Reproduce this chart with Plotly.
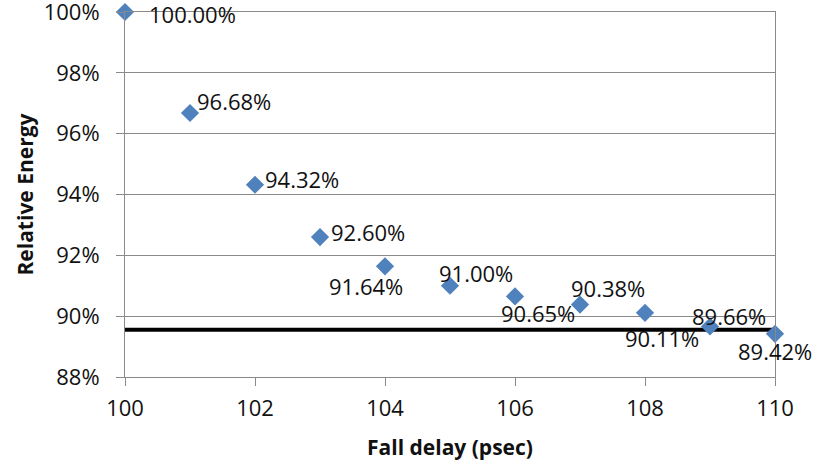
import plotly.graph_objects as go

fall_delay = [100, 101, 102, 103, 104, 105, 106, 107, 108, 109, 110]
relative_energy = [100.00, 96.68, 94.32, 92.60, 91.64, 91.00, 90.65, 90.38, 90.11, 89.66, 89.42]
threshold_x = [100, 110]
threshold_y = [89.55, 89.55]
x_ticks = [100, 102, 104, 106, 108, 110]
y_ticks = [88, 90, 92, 94, 96, 98, 100]
y_tick_labels = ["88%", "90%", "92%", "94%", "96%", "98%", "100%"]

# label offsets in pixels (dx, dy) relative to the point, style only
label_offsets = [(67, 2), (44, -12), (47, -6), (48, -5), (-19, 20), (26, -13),
                 (23, 17), (28, -17), (17, 25), (19, -11), (0, 17)]

FONT = "Open Sans"
TXT = "#111111"

fig = go.Figure()
fig.add_trace(go.Scatter(x=threshold_x, y=threshold_y, mode="lines",
                         line=dict(color="black", width=4), hoverinfo="skip",
                         showlegend=False))
fig.add_trace(go.Scatter(x=fall_delay, y=relative_energy, mode="markers",
                         marker=dict(symbol="diamond", size=14, color="#4F81BD"),
                         showlegend=False, cliponaxis=False))

for x, y, (dx, dy) in zip(fall_delay, relative_energy, label_offsets):
    fig.add_annotation(x=x, y=y, text=f"{y:.2f}%", showarrow=False,
                       xshift=dx, yshift=-dy,
                       font=dict(family=FONT, size=22, color=TXT))

grid = "#8a8a8a"
fig.update_layout(
    width=815, height=467,
    margin=dict(l=125, r=40, t=12, b=90, autoexpand=False),
    paper_bgcolor="white", plot_bgcolor="white",
    font=dict(family=FONT, size=22, color=TXT),
)
fig.update_xaxes(range=[100, 110], tickvals=x_ticks, ticktext=[str(v) for v in x_ticks],
                 showgrid=False, automargin=False, ticklabeloverflow="allow",
                 tickfont=dict(family=FONT, size=22, color=TXT),
                 showline=True, linecolor=grid, linewidth=1, mirror=True,
                 ticks="outside", ticklen=8, tickcolor=grid, zeroline=False,
                 ticklabelstandoff=4,
                 title=dict(text="<b>Fall delay (psec)</b>",
                            font=dict(family=FONT, size=21, color=TXT), standoff=18))
fig.update_yaxes(range=[88, 100], tickvals=y_ticks, ticktext=y_tick_labels,
                 automargin=False, ticklabeloverflow="allow",
                 tickfont=dict(family=FONT, size=22, color=TXT),
                 showgrid=True, gridcolor=grid, gridwidth=1,
                 showline=True, linecolor=grid, linewidth=1, mirror=True,
                 ticks="outside", ticklen=8, tickcolor=grid, zeroline=False,
                 ticklabelstandoff=12,
                 title=dict(text="<b>Relative Energy</b>",
                            font=dict(family=FONT, size=21, color=TXT), standoff=4))

fig.write_html("out.html", config={"displayModeBar": False},
               post_script="document.body.style.margin='0';")
